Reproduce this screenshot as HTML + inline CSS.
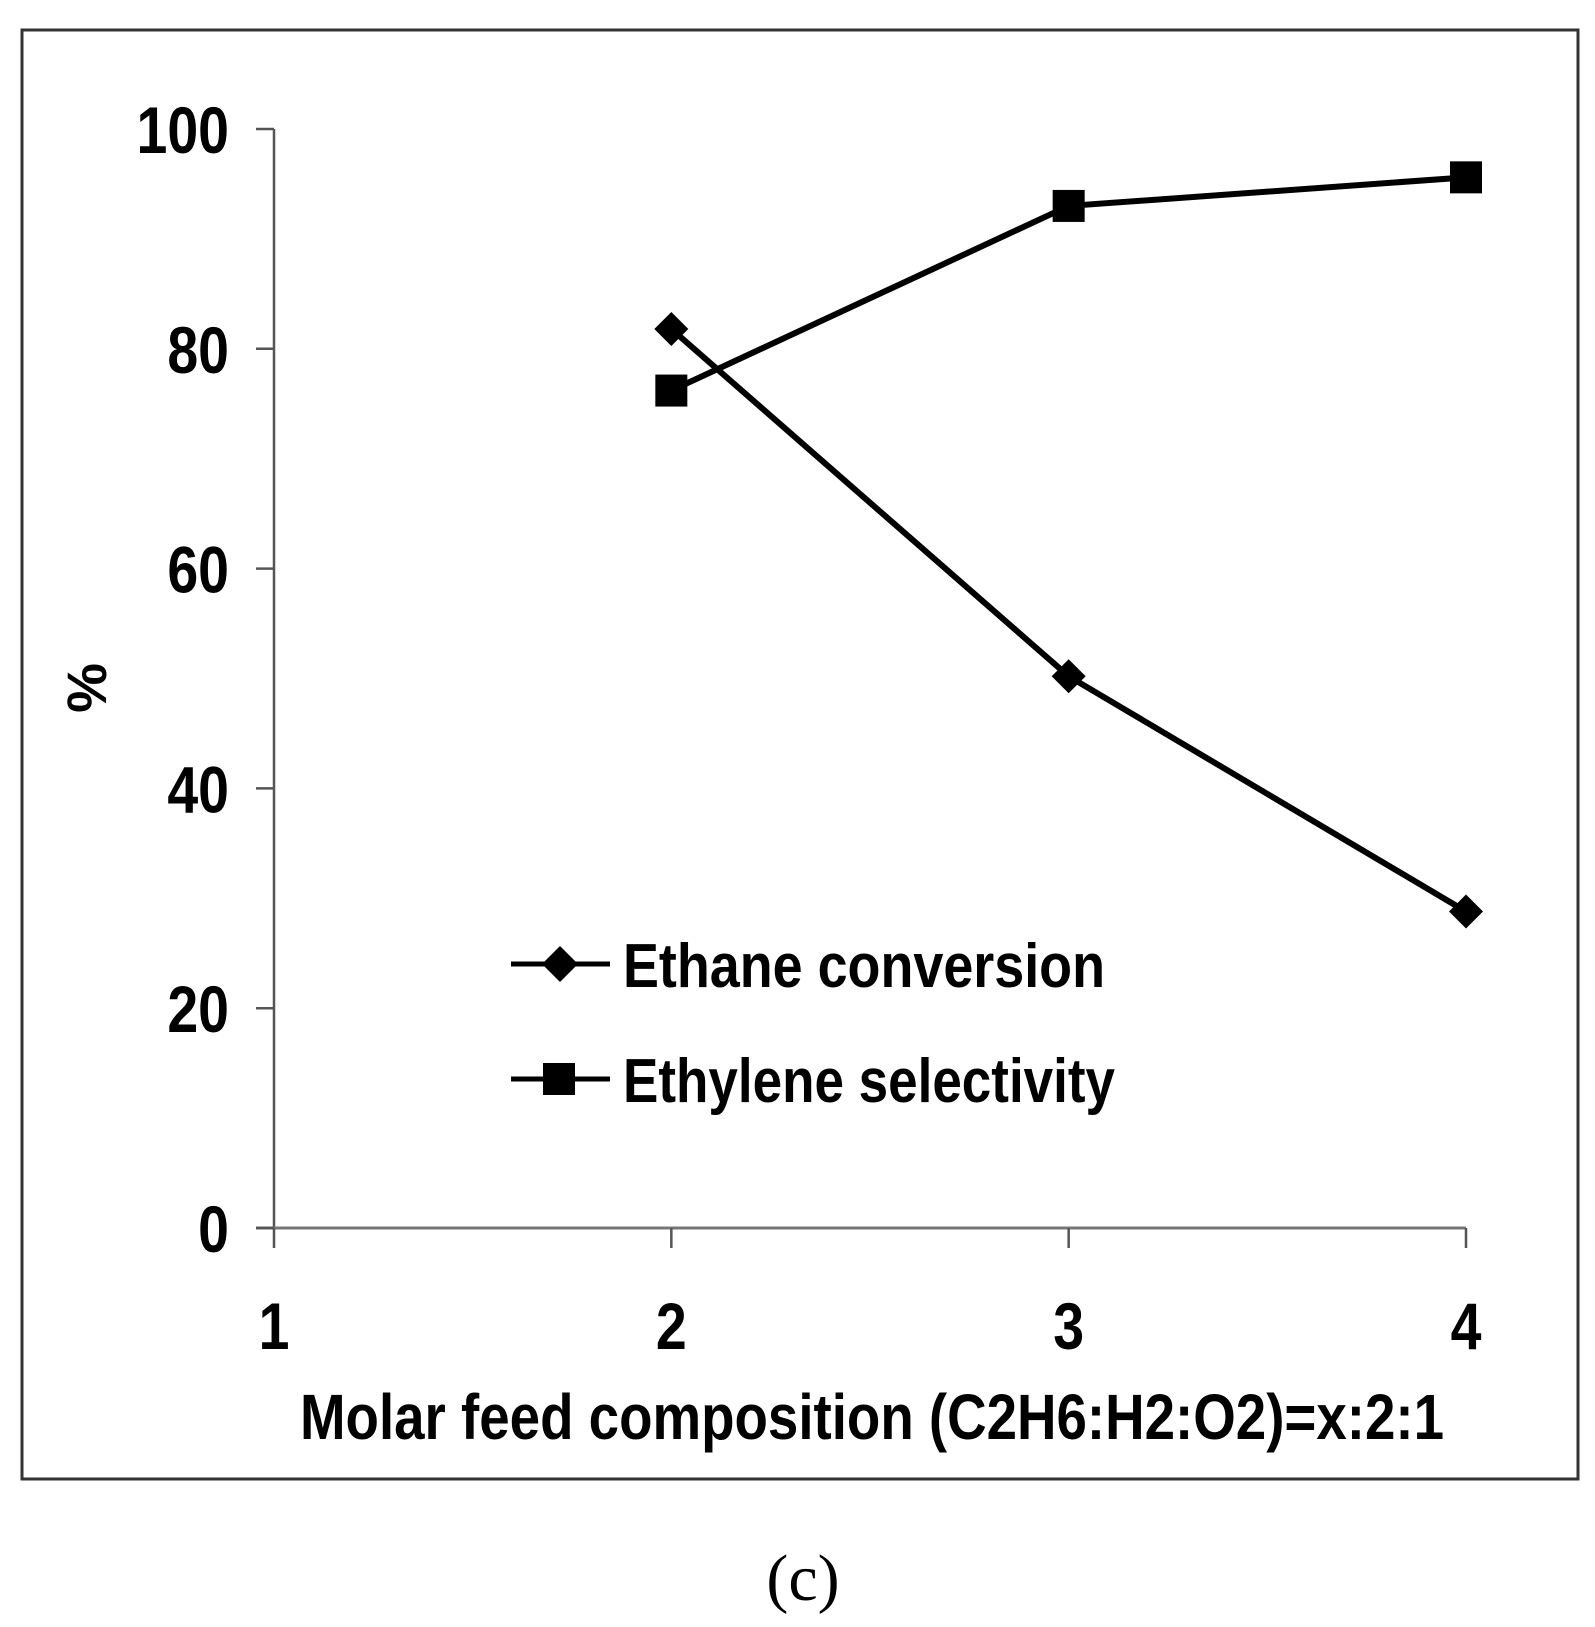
<!DOCTYPE html>
<html><head><meta charset="utf-8"><style>
html,body{margin:0;padding:0;background:#fff;}
svg{display:block;}
text{font-family:"Liberation Sans Narrow","Liberation Sans",sans-serif;font-weight:bold;fill:#000;}
</style></head><body>
<svg id="chart" width="1595" height="1627" viewBox="0 0 1595 1627" xmlns="http://www.w3.org/2000/svg">
<rect x="22" y="30" width="1556" height="1449" fill="none" stroke="#333" stroke-width="3"/>
<g id="axes"></g>
<g id="series"></g>
<text x="106" y="688" font-size="56" text-anchor="middle" transform="rotate(-90 106 688)">%</text>
<text x="300" y="1439" font-size="64" textLength="1144" lengthAdjust="spacingAndGlyphs">Molar feed  composition (C2H6:H2:O2)=x:2:1</text>
<g>
<line x1="511" y1="964" x2="610" y2="964" stroke="#000" stroke-width="5"/>
<polygon points="560,946 578,964 560,982 542,964" fill="#000"/>
<text x="623" y="987" font-size="62" textLength="482" lengthAdjust="spacingAndGlyphs">Ethane conversion</text>
<line x1="511" y1="1079" x2="610" y2="1079" stroke="#000" stroke-width="5"/>
<rect x="543" y="1063" width="32" height="32" fill="#000"/>
<text x="623" y="1102" font-size="62" textLength="492" lengthAdjust="spacingAndGlyphs">Ethylene selectivity</text>
</g>
<text x="803" y="1600" font-size="66" text-anchor="middle" style="font-family:'Liberation Serif',serif;font-weight:normal">(c)</text>
</svg>
<script>
const xCategories = [1, 2, 3, 4];
const yTicks = [0, 20, 40, 60, 80, 100];
const seriesX = [2, 3, 4];
const ethaneConversion = [81.8, 50.2, 28.8];
const ethyleneSelectivity = [76.2, 93.0, 95.6];

const NS = "http://www.w3.org/2000/svg";
const X0 = 274, X1 = 1466, Y0 = 1228, Y1 = 129;
function xs(v){ return X0 + (v - 1) / 3 * (X1 - X0); }
function ys(v){ return Y0 - v / 100 * (Y0 - Y1); }
function mk(tag, attrs, parent){ const e = document.createElementNS(NS, tag); for (const k in attrs) e.setAttribute(k, attrs[k]); parent.appendChild(e); return e; }
const axes = document.getElementById('axes');
const series = document.getElementById('series');

let yl = mk('line', {x1:X0, y1:Y1, x2:X0, y2:Y0, stroke:'#555', 'stroke-width':2.5}, axes);


let xl = mk('line', {x1:X0-18, y1:Y0, x2:X1, y2:Y0, stroke:'#777', 'stroke-width':3}, axes);



yTicks.forEach(v => {
  const t = mk('line', {x1:X0-18, y1:ys(v), x2:X0, y2:ys(v), stroke:'#555', 'stroke-width':2.5}, axes);
  
  
  const l = mk('text', {x:0, y:0, 'font-size':66, 'text-anchor':'end', transform:`translate(229 ${ys(v)+24}) scale(0.84 1)`}, axes);
  l.textContent = v;
  
  
});
xCategories.forEach(v => {
  const t = mk('line', {x1:xs(v), y1:Y0, x2:xs(v), y2:Y0+20, stroke:'#555', 'stroke-width':2.5}, axes);
  
  
  const l = mk('text', {x:0, y:0, 'font-size':66, 'text-anchor':'middle', transform:`translate(${xs(v)} 1349) scale(0.84 1)`}, axes);
  l.textContent = v;
  
  
});

function pts(arr){ return arr.map((v,i)=> xs(seriesX[i]) + ',' + ys(v)).join(' '); }
const l1 = mk('polyline', {points:pts(ethaneConversion), fill:'none', stroke:'#000', 'stroke-width':6}, series);


const l2 = mk('polyline', {points:pts(ethyleneSelectivity), fill:'none', stroke:'#000', 'stroke-width':6}, series);



ethaneConversion.forEach((v,i) => {
  const cx = xs(seriesX[i]), cy = ys(v), r = 17;
  const p = mk('polygon', {points:`${cx},${cy-r} ${cx+r},${cy} ${cx},${cy+r} ${cx-r},${cy}`, fill:'#000'}, series);
  
  
});
ethyleneSelectivity.forEach((v,i) => {
  const cx = xs(seriesX[i]), cy = ys(v), s = 32;
  const p = mk('rect', {x:cx-s/2, y:cy-s/2, width:s, height:s, fill:'#000'}, series);
  
  
});
</script>
</body></html>
